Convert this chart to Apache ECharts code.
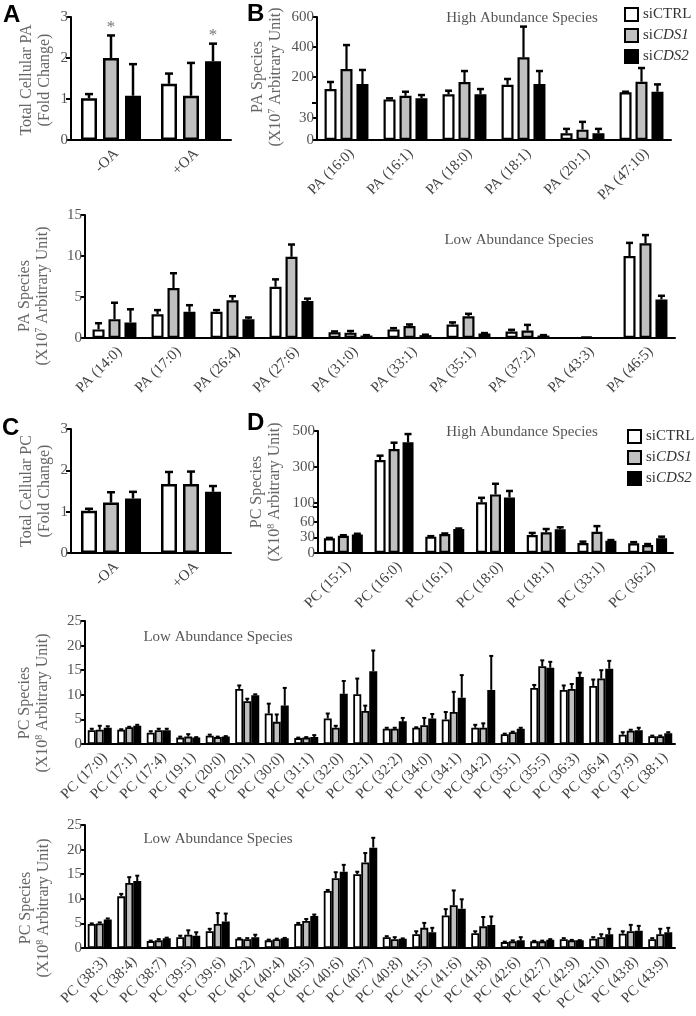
<!DOCTYPE html>
<html><head><meta charset="utf-8">
<script src="https://cdn.jsdelivr.net/npm/echarts@6.0.0/dist/echarts.min.js"></script>
<style>html,body{margin:0;padding:0;background:#fff}#c{width:696px;height:1016px}</style>
</head><body><div id="c"></div>
<script>
// ---------- DATA ----------
const seriesNames = ['siCTRL', 'siCDS1', 'siCDS2'];

// Panel A: Total cellular PA (fold change)
const catsA = ['-OA', '+OA'];
const aCtrl = [1.02, 1.37], aCtrlSD = [0.10, 0.25];
const aCds1 = [2.00, 1.08], aCds1SD = [0.55, 0.80];
const aCds2 = [1.08, 1.92], aCds2SD = [0.77, 0.43];
const aStars = [[0, 1], [1, 2]]; // [category, series]

// Panel B high abundance PA species (x10^7)
const catsBH = ['PA (16:0)', 'PA (16:1)', 'PA (18:0)', 'PA (18:1)', 'PA (20:1)', 'PA (47:10)'];
const bhCtrl = [120, 51, 85, 149, 9, 98], bhCtrlSD = [47, 7, 24, 38, 6, 4];
const bhCds1 = [253, 75, 167, 331, 14, 169], bhCds1SD = [160, 27, 73, 205, 10.5, 91];
const bhCds2 = [153, 58, 85, 153, 9, 102], bhCds2SD = [94, 22, 35, 87, 6, 49];
const bhTicks = [0, 30, 200, 400, 600];

// Panel B low abundance PA species (x10^7)
const catsBL = ['PA (14:0)', 'PA (17:0)', 'PA (26:4)', 'PA (27:6)', 'PA (31:0)', 'PA (33:1)', 'PA (35:1)', 'PA (37:2)', 'PA (43:3)', 'PA (46:5)'];
const blCtrl = [1.05, 2.9, 3.2, 6.25, 0.7, 1.05, 1.65, 0.8, 0, 10.0], blCtrlSD = [0.75, 0.5, 0.2, 0.9, 0.1, 0.15, 0.25, 0.2, 0, 1.6];
const blCds1 = [2.3, 6.1, 4.6, 9.9, 0.65, 1.45, 2.65, 0.9, 0.15, 11.55], blCds1SD = [2.0, 1.8, 0.5, 1.5, 0.2, 0.2, 0.3, 0.7, 0, 1.0];
const blCds2 = [1.9, 3.2, 2.3, 4.5, 0.3, 0.35, 0.55, 0.3, 0, 4.7], blCds2SD = [1.6, 0.8, 0.2, 0.3, 0.05, 0.05, 0.05, 0.05, 0, 0.45];

// Panel C: Total cellular PC (fold change)
const catsC = ['-OA', '+OA'];
const cCtrl = [1.02, 1.67], cCtrlSD = [0.05, 0.29];
const cCds1 = [1.22, 1.67], cCds1SD = [0.25, 0.30];
const cCds2 = [1.32, 1.48], cCds2SD = [0.16, 0.14];

// Panel D high abundance PC species (x10^8)
const catsDH = ['PC (15:1)', 'PC (16:0)', 'PC (16:1)', 'PC (18:0)', 'PC (18:1)', 'PC (33:1)', 'PC (36:2)'];
const dhCtrl = [28.4, 339, 31.6, 104, 34.8, 19.3, 18.7], dhCtrlSD = [0.8, 24, 1, 25, 4, 2.7, 2.3];
const dhCds1 = [33.5, 400, 36.8, 148, 40, 41, 15.5], dhCds1SD = [0.8, 35, 1, 59, 6.4, 11, 1.8];
const dhCds2 = [36, 437, 46.4, 131, 45.8, 23.9, 28.4], dhCds2SD = [1.2, 46, 1, 36, 3.9, 1.1, 3.2];
const dhTicks = [0, 30, 60, 100, 300, 500];

// Panel D low abundance PC species, part 1 (x10^8)
const catsDL1 = ['PC (17:0)', 'PC (17:1)', 'PC (17:4)', 'PC (19:1)', 'PC (20:0)', 'PC (20:1)', 'PC (30:0)', 'PC (31:1)', 'PC (32:0)', 'PC (32:1)', 'PC (32:2)', 'PC (34:0)', 'PC (34:1)', 'PC (34:2)', 'PC (35:1)', 'PC (35:5)', 'PC (36:3)', 'PC (36:4)', 'PC (37:9)', 'PC (38:1)'];
const dl1Ctrl = [2.8, 2.9, 2.3, 1.3, 1.7, 11.2, 6.2, 1.2, 5.2, 10.1, 3.1, 3.3, 5.0, 3.3, 2.0, 11.4, 11.0, 11.8, 1.9, 1.6];
const dl1CtrlSD = [0.3, 0.1, 0.3, 0.2, 0.2, 0.7, 2.0, 0.1, 1.0, 3.2, 0.2, 0.1, 1.5, 0.6, 0.1, 0.6, 0.9, 1.3, 0.5, 0.1];
const dl1Cds1 = [2.9, 3.4, 2.8, 1.5, 1.4, 8.7, 4.5, 1.3, 3.3, 6.7, 3.1, 3.8, 6.5, 3.3, 2.4, 15.8, 11.2, 13.3, 2.7, 1.6];
const dl1Cds1SD = [0.8, 0.1, 0.3, 0.5, 0.1, 0.5, 1.5, 0.1, 0.4, 1.1, 0.2, 1.5, 4.1, 0.9, 0.1, 1.2, 1.0, 1.7, 0.2, 0.1];
const dl1Cds2 = [3.3, 3.7, 2.8, 1.3, 1.5, 9.9, 7.8, 1.4, 10.2, 14.8, 4.6, 5.2, 9.4, 11.0, 3.1, 15.5, 13.6, 15.3, 2.8, 2.2];
const dl1Cds2SD = [0.3, 0.2, 0.3, 0.1, 0.1, 0.2, 3.6, 0.4, 2.6, 4.2, 0.7, 0.9, 4.6, 6.9, 0.2, 1.2, 0.9, 1.6, 0.5, 0.2];

// Panel D low abundance PC species, part 2 (x10^8)
const catsDL2 = ['PC (38:3)', 'PC (38:4)', 'PC (38:7)', 'PC (39:5)', 'PC (39:6)', 'PC (40:2)', 'PC (40:4)', 'PC (40:5)', 'PC (40:6)', 'PC (40:7)', 'PC (40:8)', 'PC (41:5)', 'PC (41:6)', 'PC (41:8)', 'PC (42:6)', 'PC (42:7)', 'PC (42:9)', 'PC (42:10)', 'PC (43:8)', 'PC (43:9)'];
const dl2Ctrl = [4.9, 10.5, 1.4, 2.2, 3.4, 1.9, 1.55, 4.9, 11.6, 15.0, 2.2, 2.8, 6.6, 3.0, 1.2, 1.35, 1.8, 1.9, 2.9, 1.8];
const dl2CtrlSD = [0.1, 0.5, 0.1, 0.3, 0.5, 0.1, 0.15, 0.2, 0.2, 0.5, 0.2, 0.6, 1.3, 0.4, 0.1, 0.1, 0.2, 0.3, 0.5, 0.2];
const dl2Cds1 = [5.0, 13.2, 1.55, 2.7, 4.9, 1.8, 1.8, 5.5, 14.2, 17.4, 1.8, 4.1, 8.7, 4.4, 1.35, 1.35, 1.55, 2.2, 3.4, 2.8];
const dl2Cds1SD = [0.2, 1.2, 0.25, 0.9, 2.2, 0.2, 0.1, 0.4, 1.2, 1.9, 0.4, 1.0, 3.0, 1.9, 0.2, 0.15, 0.1, 0.6, 1.3, 1.1];
const dl2Cds2 = [5.8, 13.6, 2.0, 2.5, 5.4, 2.2, 2.0, 6.5, 15.5, 20.4, 1.9, 3.2, 8.0, 4.7, 1.55, 1.7, 1.55, 2.8, 3.5, 3.2];
const dl2Cds2SD = [0.2, 1.1, 0.1, 0.7, 1.6, 0.5, 0.05, 0.3, 1.4, 2.0, 0.05, 0.9, 1.9, 1.7, 0.65, 0.1, 0.05, 1.1, 1.0, 0.9];

// ---------- CHART ----------
const SERIF = '"Liberation Serif", "Times New Roman", serif';
const SANS = '"Liberation Sans", Arial, sans-serif';
const fills = ['#ffffff', '#c0c0c0', '#000000'];
const grids = [], xAxes = [], yAxes = [], series = [];

// broken-axis scale: lower segment [0,lMax] over lPx pixels, upper segment [uMin,uMax] over the rest
function brokenScale(lMax, lPx, uMin, uMax, H) {
  return v => v <= lMax ? v * lPx / lMax : lPx + (v - uMin) * (H - lPx) / (uMax - uMin);
}

function panel(p) {
  const gi = grids.length;
  grids.push({ left: p.left, top: p.top, width: p.width, height: p.height });
  xAxes.push({
    gridIndex: gi, type: 'category', data: p.cats,
    axisTick: { show: false },
    axisLine: { lineStyle: { color: '#000', width: 2 } },
    axisLabel: { rotate: 45, interval: 0, fontSize: p.xfs || 15, color: '#444', fontFamily: SERIF,
      margin: p.xm || 6, verticalAlign: 'top' }
  });
  const y = {
    gridIndex: gi, type: 'value', min: 0, max: p.ymax,
    splitLine: { show: false },
    axisLine: { show: true, lineStyle: { color: '#000', width: 2 } },
    axisTick: { show: true, length: 5, lineStyle: { color: '#000', width: 2 } },
    axisLabel: { fontSize: p.yfs || 15, color: '#555', fontFamily: SERIF, margin: 3 }
  };
  if (p.interval) y.interval = p.interval;
  const tf = p.tf || (v => v);
  if (p.ticks) {
    const pos = p.ticks.map(tf).concat([p.breakPx]);
    const labs = p.ticks.map(String).concat(['']);
    y.axisTick.customValues = pos;
    y.axisLabel.customValues = pos;
    y.axisLabel.formatter = v => {
      let best = 0, d = 1e9;
      pos.forEach((q, i) => { if (Math.abs(q - v) < d) { d = Math.abs(q - v); best = i; } });
      return labs[best];
    };
  }
  yAxes.push(y);
  const step = p.bw * (1 + p.gap / 100);
  p.data.forEach((d, k) => {
    series.push({
      type: 'bar', name: seriesNames[k], xAxisIndex: gi, yAxisIndex: gi,
      barWidth: p.bw, barGap: p.gap + '%',
      data: d[0].map(tf),
      itemStyle: { color: fills[k], borderColor: '#000', borderWidth: p.bwid },
      emphasis: { disabled: true }, silent: true, z: 2
    });
  });
  const errData = [];
  p.data.forEach((d, k) => {
    d[0].forEach((m, i) => {
      const s = d[1][i];
      const star = p.stars && p.stars.some(q => q[0] === i && q[1] === k) ? 1 : 0;
      if (s > 0 || star) errData.push([i, tf(m + s), tf(m), k, star]);
    });
  });
  series.push({
    type: 'custom', xAxisIndex: gi, yAxisIndex: gi, data: errData, z: 3, silent: true,
    renderItem: (params, api) => {
      const ci = api.value(0), top = api.value(1), base = api.value(2), k = api.value(3), star = api.value(4);
      const off = (k - 1) * step;
      const pt = api.coord([ci, top]);
      const pb = api.coord([ci, base]);
      const x = pt[0] + off;
      const ch = [];
      if (top > base) {
        ch.push({ type: 'line', shape: { x1: x, y1: pb[1], x2: x, y2: pt[1] }, style: { stroke: '#000', lineWidth: p.stemW } });
        ch.push({ type: 'line', shape: { x1: x - p.capW, y1: pt[1], x2: x + p.capW, y2: pt[1] }, style: { stroke: '#000', lineWidth: p.capLW } });
      }
      if (star) ch.push({ type: 'text', x: x, y: pt[1] - 8, style: { text: '*', fill: '#777', font: '17px ' + SERIF, align: 'center', verticalAlign: 'middle' } });
      return { type: 'group', children: ch };
    }
  });
}

const tfBH = brokenScale(50, 37, 27, 600, 123);
const tfDH = brokenScale(89, 46, 78, 500, 122);

panel({ left: 71, top: 17, width: 160, height: 123, cats: catsA, ymax: 3, interval: 1, xfs: 15, yfs: 15,
  data: [[aCtrl, aCtrlSD], [aCds1, aCds1SD], [aCds2, aCds2SD]], stars: aStars,
  bw: 16, gap: 37.5, bwid: 2.5, stemW: 2.5, capW: 4, capLW: 2.5 });
panel({ left: 317, top: 17, width: 354, height: 123, cats: catsBH, ymax: 123, tf: tfBH, ticks: bhTicks, breakPx: 37,
  data: [[bhCtrl, bhCtrlSD], [bhCds1, bhCds1SD], [bhCds2, bhCds2SD]],
  bw: 12, gap: 33, bwid: 2.2, stemW: 2.2, capW: 3.5, capLW: 2.5 });
panel({ left: 85, top: 215, width: 590, height: 123, cats: catsBL, ymax: 15, interval: 5,
  data: [[blCtrl, blCtrlSD], [blCds1, blCds1SD], [blCds2, blCds2SD]],
  bw: 12, gap: 33, bwid: 2.2, stemW: 2.2, capW: 3.5, capLW: 2.5 });
panel({ left: 71, top: 429, width: 160, height: 124, cats: catsC, ymax: 3, interval: 1, xfs: 15, yfs: 15,
  data: [[cCtrl, cCtrlSD], [cCds1, cCds1SD], [cCds2, cCds2SD]],
  bw: 16, gap: 37.5, bwid: 2.5, stemW: 2.5, capW: 4, capLW: 2.5 });
panel({ left: 318, top: 431, width: 355, height: 122, cats: catsDH, ymax: 122, tf: tfDH, ticks: dhTicks, breakPx: 46,
  data: [[dhCtrl, dhCtrlSD], [dhCds1, dhCds1SD], [dhCds2, dhCds2SD]],
  bw: 11, gap: 27, bwid: 2.2, stemW: 2.2, capW: 3.5, capLW: 2.5 });
panel({ left: 85, top: 621, width: 590, height: 123, cats: catsDL1, ymax: 25, interval: 5,
  data: [[dl1Ctrl, dl1CtrlSD], [dl1Cds1, dl1Cds1SD], [dl1Cds2, dl1Cds2SD]],
  bw: 8, gap: 0, bwid: 1.8, stemW: 2, capW: 2, capLW: 2 });
panel({ left: 85, top: 825, width: 590, height: 123, cats: catsDL2, ymax: 25, interval: 5,
  data: [[dl2Ctrl, dl2CtrlSD], [dl2Cds1, dl2Cds1SD], [dl2Cds2, dl2Cds2SD]],
  bw: 8, gap: 0, bwid: 1.8, stemW: 2, capW: 2, capLW: 2 });

function mkLegend(l, t) {
  return {
    orient: 'vertical', left: l, top: t, itemWidth: 13, itemHeight: 13, itemGap: 6,
    icon: 'rect', data: seriesNames, selectedMode: false,
    textStyle: { fontFamily: SERIF, fontSize: 15, color: '#333',
      rich: { n: { fontFamily: SERIF, fontSize: 15, color: '#333' },
              i: { fontFamily: SERIF, fontSize: 15, color: '#333', fontStyle: 'italic' } } },
    formatter: n => n === 'siCTRL' ? '{n|siCTRL}' : '{n|si}{i|' + n.slice(2) + '}'
  };
}

function txt(x, y, s, size, color) {
  return { type: 'text', x: x, y: y, silent: true,
    style: { text: s, fill: color, font: size + 'px ' + SERIF, align: 'center', verticalAlign: 'middle' } };
}
const ynameRich = {
  a: { fontFamily: SERIF, fontSize: 16, fill: '#666', lineHeight: 18 },
  s: { fontFamily: SERIF, fontSize: 10, fill: '#666', lineHeight: 18, verticalAlign: 'top' }
};
function yname(x, y, l1, l2, sup, l3) {
  const t = '{a|' + l1 + '}\n{a|' + l2 + '}' + (sup ? '{s|' + sup + '}{a|' + l3 + '}' : '');
  return { type: 'text', x: x, y: y, rotation: Math.PI / 2, silent: true,
    style: { text: t, rich: ynameRich, align: 'center', verticalAlign: 'middle' } };
}
function letter(x, y, s) {
  return { type: 'text', x: x, y: y, silent: true,
    style: { text: s, fill: '#000', font: 'bold 24px ' + SANS, align: 'left', verticalAlign: 'top' } };
}

const graphics = [
  letter(3, 3, 'A'), letter(247, 2, 'B'), letter(2, 416, 'C'), letter(247, 411, 'D'),
  txt(522, 18, 'High Abundance Species', 15, '#555'),
  txt(519, 240, 'Low Abundance Species', 15, '#555'),
  txt(522, 432, 'High Abundance Species', 15, '#555'),
  txt(218, 637, 'Low Abundance Species', 15, '#555'),
  txt(218, 839, 'Low Abundance Species', 15, '#555'),
  yname(36, 80, 'Total Cellular PA', '(Fold Change)'),
  yname(267, 77, 'PA Species', '(X10', '7', ' Arbitrary Unit)'),
  yname(34, 296, 'PA Species', '(X10', '7', ' Arbitrary Unit)'),
  yname(36, 491, 'Total Cellular PC', '(Fold Change)'),
  yname(266, 492, 'PC Species', '(X10', '8', ' Arbitrary Unit)'),
  yname(34, 703, 'PC Species', '(X10', '8', ' Arbitrary Unit)'),
  yname(35, 908, 'PC Species', '(X10', '8', ' Arbitrary Unit)')
];

const chart = echarts.init(document.getElementById('c'));
chart.setOption({
  animation: false,
  backgroundColor: '#fff',
  grid: grids, xAxis: xAxes, yAxis: yAxes, series: series,
  legend: [mkLegend(619, 2), mkLegend(622, 424)],
  graphic: graphics
});
</script></body></html>
